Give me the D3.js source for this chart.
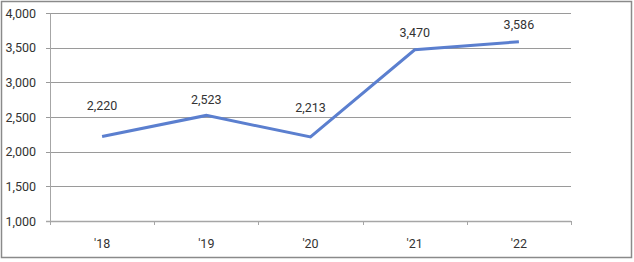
<!DOCTYPE html>
<meta charset="utf-8">
<style>
body { margin: 0; background: #fff; }
svg text { font-family: Roboto, "Noto Sans CJK KR", sans-serif; fill: #333; }
</style>
<svg width="634" height="262"></svg>
<script src="https://cdn.jsdelivr.net/npm/d3@7"></script>
<script>

var years = ["'18", "'19", "'20", "'21", "'22"];
var values = [2220, 2523, 2213, 3470, 3586];
var yTicks = [1000, 1500, 2000, 2500, 3000, 3500, 4000];

var svg = d3.select("svg"),
    margin = {left: 50, right: 63, top: 13, bottom: 41},
    width = +svg.attr("width") - margin.left - margin.right,
    height = +svg.attr("height") - margin.top - margin.bottom;

// outer frame
svg.append("rect")
    .attr("x", 1.5).attr("y", 1.5)
    .attr("width", 630).attr("height", 256)
    .attr("fill", "none")
    .attr("stroke", "#8a8a8a")
    .attr("stroke-width", 1.5);

var g = svg.append("g").attr("transform", "translate(" + margin.left + "," + margin.top + ")");

var x = d3.scaleBand().domain(years).range([0, width]);
var y = d3.scaleLinear().domain([1000, 4000]).range([height, 0]);

// gridlines
g.append("g")
    .selectAll("line")
    .data(yTicks)
    .enter().append("line")
      .attr("x1", -4).attr("x2", width)
      .attr("y1", function(d) { return Math.round(y(d)) + 0.5; })
      .attr("y2", function(d) { return Math.round(y(d)) + 0.5; })
      .attr("stroke", function(d) { return d == 1000 ? "#a6a6a6" : "#9a9a9a"; })
      .attr("stroke-width", function(d) { return d == 1000 ? 1.5 : 1; });

// y axis
var yAxis = g.append("g")
    .call(d3.axisLeft(y).tickValues(yTicks).tickFormat(d3.format(",")).tickSize(0).tickPadding(14));
yAxis.select(".domain").attr("stroke", "#a6a6a6");
yAxis.selectAll("text").style("font-size", "12.5px");

// x axis
var xAxis = g.append("g")
    .attr("transform", "translate(0," + height + ")")
    .call(d3.axisBottom(x).tickSize(0).tickPadding(18));
xAxis.select(".domain").remove();
xAxis.selectAll("text").style("font-size", "12.5px");

// small ticks at band edges
g.append("g")
    .selectAll("line")
    .data(d3.range(years.length + 1))
    .enter().append("line")
      .attr("x1", function(i) { return Math.round(i * x.step()) + 0.5; })
      .attr("x2", function(i) { return Math.round(i * x.step()) + 0.5; })
      .attr("y1", height).attr("y2", height + 4)
      .attr("stroke", "#a6a6a6");

var line = d3.line()
    .x(function(d, i) { return x(years[i]) + x.bandwidth() / 2; })
    .y(function(d) { return y(d); });

g.append("path")
    .datum(values)
    .attr("fill", "none")
    .attr("stroke", "#5b7fcf")
    .attr("stroke-width", 3)
    .attr("stroke-linejoin", "miter")
    .attr("d", line);

// label offsets above each point (as placed in the original)
var labelDy = [-31, -16, -29, -17, -17];

g.append("g")
    .selectAll("text")
    .data(values)
    .enter().append("text")
      .attr("x", function(d, i) { return x(years[i]) + x.bandwidth() / 2; })
      .attr("y", function(d, i) { return y(d) + labelDy[i]; })
      .attr("dy", "0.35em")
      .attr("text-anchor", "middle")
      .style("font-size", "12.5px")
      .text(d3.format(","));

</script>
